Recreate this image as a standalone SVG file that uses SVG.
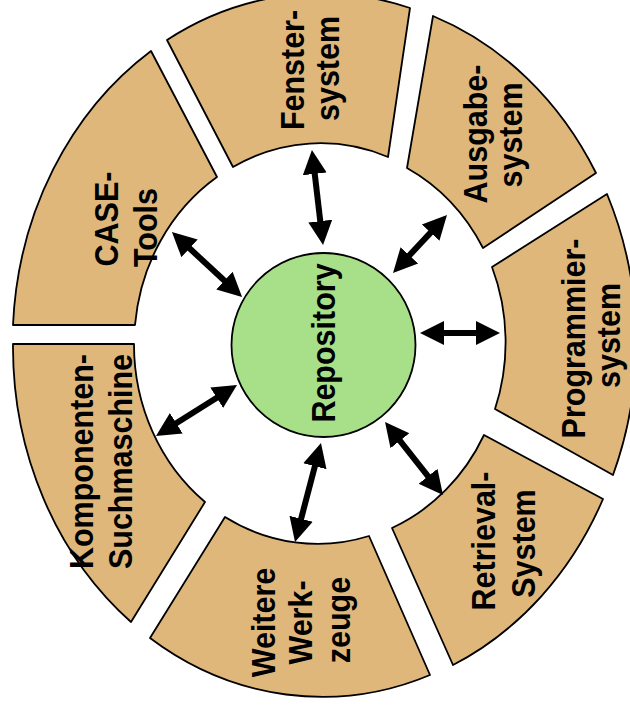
<svg xmlns="http://www.w3.org/2000/svg" width="630" height="706" viewBox="0 0 630 706">
<style>
.seg{fill:#DFB77A;stroke:#000;stroke-width:1.8;stroke-linejoin:round}
.repo{fill:#A8E08A;stroke:#000;stroke-width:1.8}
.lbl{font-family:"Liberation Sans",Arial,sans-serif;font-weight:bold;font-size:30.5px;fill:#000;text-anchor:middle}
.arr{stroke:#000;stroke-width:6;fill:none;marker-start:url(#ah);marker-end:url(#ah)}
</style>
<defs>
<marker id="ah" markerUnits="userSpaceOnUse" markerWidth="28" markerHeight="28" viewBox="0 -14 28 28" refX="2" refY="0" orient="auto-start-reverse">
<path d="M0,-12 L24,0 L0,12 Z" fill="#000"/>
</marker>
</defs>
<rect width="630" height="706" fill="#fff"/>
<g id="case-tools">
<path class="seg" d="M13,325 A310,350 0 0 1 151,51 L217,177 A185,200 0 0 0 135,325 Z"/>
<text class="lbl" transform="translate(118,219) rotate(-90) scale(1,1.06)">CASE-</text>
<text class="lbl" transform="translate(157,227.5) rotate(-90) scale(1,1.06)">Tools</text>
</g>
<g id="fenstersystem">
<path class="seg" d="M167,40 A310,350 0 0 1 410,8 L388,157 A185,200 0 0 0 233,167 Z"/>
<text class="lbl" transform="translate(304,70) rotate(-90) scale(1,1.06)">Fenster-</text>
<text class="lbl" transform="translate(339,68.5) rotate(-90) scale(1,1.06)">system</text>
</g>
<g id="ausgabesystem">
<path class="seg" d="M433,16 A310,350 0 0 1 596,173 L483,248 A185,200 0 0 0 407,168 Z"/>
<text class="lbl" transform="translate(487,134) rotate(-90) scale(1,1.06)">Ausgabe-</text>
<text class="lbl" transform="translate(522,135) rotate(-90) scale(1,1.06)">system</text>
</g>
<g id="programmiersystem">
<path class="seg" d="M607,194 A310,350 0 0 1 613,475 L495,409 A185,200 0 0 0 492,267 Z"/>
<text class="lbl" transform="translate(585,338.5) rotate(-90) scale(1,1.06)">Programmier-</text>
<text class="lbl" transform="translate(620,335.5) rotate(-90) scale(1,1.06)">system</text>
</g>
<g id="retrievalsystem">
<path class="seg" d="M603,499 A310,350 0 0 1 453,665 L392,528 A185,200 0 0 0 484,435 Z"/>
<text class="lbl" transform="translate(495,541) rotate(-90) scale(1,1.06)">Retrieval-</text>
<text class="lbl" transform="translate(535,543.5) rotate(-90) scale(1,1.06)">System</text>
</g>
<g id="weitere-werkzeuge">
<path class="seg" d="M430,675 A310,350 0 0 1 150,638 L225,517 A185,200 0 0 0 369,536 Z"/>
<text class="lbl" transform="translate(275,622.5) rotate(-90) scale(1,1.06)">Weitere</text>
<text class="lbl" transform="translate(312,622.5) rotate(-90) scale(1,1.06)">Werk-</text>
<text class="lbl" transform="translate(350,620) rotate(-90) scale(1,1.06)">zeuge</text>
</g>
<g id="komponenten-suchmaschine">
<path class="seg" d="M131,622 A310,350 0 0 1 13,344 L134,344 A185,200 0 0 0 205,502 Z"/>
<text class="lbl" transform="translate(93,461.5) rotate(-90) scale(1,1.06)">Komponenten-</text>
<text class="lbl" transform="translate(132,461.5) rotate(-90) scale(1,1.06)">Suchmaschine</text>
</g>
<g id="repository">
<circle class="repo" cx="323.5" cy="345" r="92"/>
<text class="lbl" transform="translate(335,343) rotate(-90) scale(1,1.06)">Repository</text>
</g>
<g id="connectors">
<line class="arr" x1="188.1" y1="247" x2="225.9" y2="282"/>
<line class="arr" x1="314.5" y1="171.9" x2="320.5" y2="223.1"/>
<line class="arr" x1="432" y1="231.1" x2="408" y2="256.9"/>
<line class="arr" x1="442" y1="333" x2="478" y2="333"/>
<line class="arr" x1="398.7" y1="439.2" x2="429.3" y2="477.8"/>
<line class="arr" x1="315.4" y1="464.3" x2="300.6" y2="520.7"/>
<line class="arr" x1="218.4" y1="396.7" x2="174.6" y2="424.3"/>
</g>
</svg>
